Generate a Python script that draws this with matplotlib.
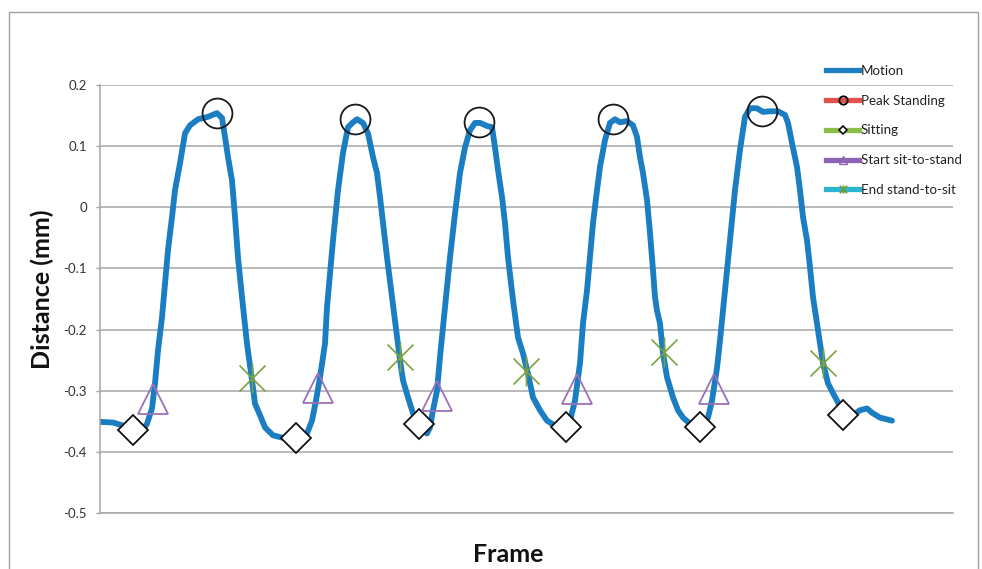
# Sit-to-stand motion trace with detected events
import numpy as np
import matplotlib
matplotlib.use("Agg")
import matplotlib.pyplot as plt
from matplotlib.lines import Line2D
from matplotlib.path import Path
from matplotlib.patches import Rectangle

plt.rcParams['font.family'] = ['Lato', 'DejaVu Sans']

# motion trace (frame, distance in mm)
frames = [0, 13, 23, 33, 42, 47, 52, 55, 58, 62, 65, 68, 72, 75, 80, 85, 90, 98, 108, 117,
          122, 125, 128, 132, 135, 138, 142, 147, 152, 155, 160, 165, 173, 183, 197, 207, 212, 216, 220, 225,
          227, 233, 238, 243, 248, 253, 257, 263, 268, 273, 277, 280, 283, 287, 292, 297, 300, 303, 308, 313,
          320, 327, 330, 333, 337, 340, 345, 350, 355, 360, 365, 370, 375, 380, 387, 392, 395, 398, 402, 405,
          408, 413, 418, 423, 428, 433, 440, 447, 455, 463, 470, 475, 480, 483, 487, 490, 493, 497, 500, 505,
          510, 515, 520, 527, 533, 537, 540, 543, 547, 550, 553, 555, 557, 560, 563, 567, 573, 578, 583, 590,
          597, 603, 608, 612, 617, 620, 625, 630, 635, 640, 645, 650, 657, 663, 670, 678, 685, 688, 692, 697,
          700, 703, 707, 710, 713, 718, 723, 728, 733, 738, 742, 747, 753, 760, 767, 772, 780, 787, 792]
distance = [-0.351, -0.352, -0.357, -0.363, -0.367, -0.354, -0.329, -0.288, -0.234, -0.180,
            -0.124, -0.070, -0.016, 0.028, 0.072, 0.121, 0.134, 0.144, 0.148, 0.154,
            0.146, 0.115, 0.082, 0.044, -0.016, -0.082, -0.147, -0.223, -0.283, -0.321,
            -0.340, -0.360, -0.373, -0.377, -0.377, -0.370, -0.349, -0.316, -0.278, -0.223,
            -0.164, -0.054, 0.028, 0.089, 0.131, 0.139, 0.144, 0.138, 0.121, 0.082,
            0.056, 0.017, -0.026, -0.082, -0.147, -0.213, -0.250, -0.283, -0.311, -0.337,
            -0.360, -0.370, -0.360, -0.332, -0.300, -0.245, -0.164, -0.082, -0.010, 0.056,
            0.098, 0.126, 0.138, 0.138, 0.133, 0.131, 0.098, 0.061, 0.017, -0.026,
            -0.082, -0.152, -0.213, -0.239, -0.272, -0.311, -0.332, -0.349, -0.357, -0.358,
            -0.349, -0.316, -0.255, -0.190, -0.136, -0.082, -0.026, 0.028, 0.066, 0.110,
            0.138, 0.144, 0.139, 0.141, 0.134, 0.115, 0.082, 0.056, 0.012, -0.042,
            -0.103, -0.147, -0.169, -0.190, -0.239, -0.278, -0.311, -0.332, -0.344, -0.354,
            -0.358, -0.357, -0.344, -0.316, -0.263, -0.218, -0.136, -0.054, 0.028, 0.094,
            0.148, 0.162, 0.162, 0.156, 0.157, 0.157, 0.151, 0.138, 0.105, 0.066,
            0.028, -0.016, -0.054, -0.098, -0.147, -0.201, -0.255, -0.288, -0.304, -0.319,
            -0.337, -0.344, -0.340, -0.332, -0.329, -0.336, -0.344, -0.347, -0.349]

# detected events
peak_frames = [117, 255, 379, 513, 662]
peak_values = [0.154, 0.144, 0.139, 0.144, 0.157]
sit_frames = [33, 196, 319, 466, 600, 743]
sit_values = [-0.365, -0.377, -0.354, -0.360, -0.360, -0.340]
start_frames = [53, 218, 337, 477, 614]
start_values = [-0.313, -0.295, -0.308, -0.298, -0.298]
end_frames = [152, 300, 426, 564, 723]
end_values = [-0.280, -0.245, -0.267, -0.237, -0.254]

yticks = [-0.5, -0.4, -0.3, -0.2, -0.1, 0, 0.1, 0.2]
ytick_labels = ['-0.5', '-0.4', '-0.3', '-0.2', '-0.1', '0', '0.1', '0.2']

blue = '#1B7DC2'
grid_gray = '#A6A6A6'
star = Path([(-1, -1), (1, 1), (-1, 1), (1, -1), (0, -1.15), (0, 1.15)],
            [Path.MOVETO, Path.LINETO] * 3)

fig = plt.figure(figsize=(9.82, 5.69), dpi=100)
fig.patches.append(Rectangle((9 / 982, -0.05), 969 / 982, 1.05 - 12 / 569,
                             transform=fig.transFigure, fill=False,
                             edgecolor='#A0A0A0', lw=1.0))
ax = fig.add_axes([100 / 982, 1 - 513 / 569, 853 / 982, 428 / 569])

ax.plot(frames, distance, color=blue, lw=4.2, solid_capstyle='round',
        solid_joinstyle='round', zorder=2)
ax.plot(peak_frames, peak_values, ls='none', marker='o', ms=21.5,
        mfc='none', mec='#1a1a1a', mew=1.3, zorder=3)
ax.plot(sit_frames, sit_values, ls='none', marker='D', ms=15.3,
        mfc='white', mec='#111111', mew=1.3, zorder=3)
ax.plot(start_frames, start_values, ls='none', marker='^', ms=21.5,
        mfc='none', mec='#9B72BA', mew=1.3, zorder=3)
ax.plot(end_frames, end_values, ls='none', marker=star, ms=21.5,
        mfc='none', mec='#7AA33E', mew=1.2, zorder=3)

ax.set_xlim(0, 853)
ax.set_ylim(-0.5, 0.2)
ax.set_xticks([])
ax.set_yticks(yticks)
ax.set_yticklabels(ytick_labels)
ax.tick_params(axis='y', length=3, width=1, color=grid_gray, pad=6.5,
               labelsize=9.5, labelcolor='#333333')
ax.yaxis.grid(True, color=grid_gray, lw=1.1)
ax.set_axisbelow(True)
for side in ['top', 'right']:
    ax.spines[side].set_visible(False)
for side in ['left', 'bottom']:
    ax.spines[side].set_color(grid_gray)
    ax.spines[side].set_linewidth(1.1)

ax.set_ylabel('Distance (mm)', fontsize=18, fontweight='bold', color='#111111', va='center')
ax.yaxis.set_label_coords(-0.068, 0.523)
ax.set_xlabel('Frame', fontsize=18, fontweight='bold', color='#111111', va='center')
ax.xaxis.set_label_coords(0.478, -0.098)

handles = [
    Line2D([], [], color=blue, lw=3.8),
    Line2D([], [], color='#E0514C', lw=3.8, marker='o', ms=6, mfc='none', mec='black', mew=1.3),
    Line2D([], [], color='#8CBF4A', lw=3.8, marker='D', ms=4.2, mfc='white', mec='black', mew=1.1),
    Line2D([], [], color='#8C63B5', lw=3.8, marker='^', ms=5.5, mfc='none', mec='#8C63B5', mew=1.0),
    Line2D([], [], color='#2BB5D0', lw=3.8, marker=star, ms=6, mfc='none', mec='#6E9E3A', mew=1.3),
]
labels = ['Motion', 'Peak Standing', 'Sitting', 'Start sit-to-stand', 'End stand-to-sit']
fig.legend(handles, labels, loc='upper left', bbox_to_anchor=(826 / 982, 1 - 65 / 569),
           frameon=False, fontsize=9.6, handlelength=2.5, handletextpad=0.1,
           labelspacing=1.33, borderpad=0, borderaxespad=0, labelcolor='#222222')

fig.savefig('out.png', dpi=100)
